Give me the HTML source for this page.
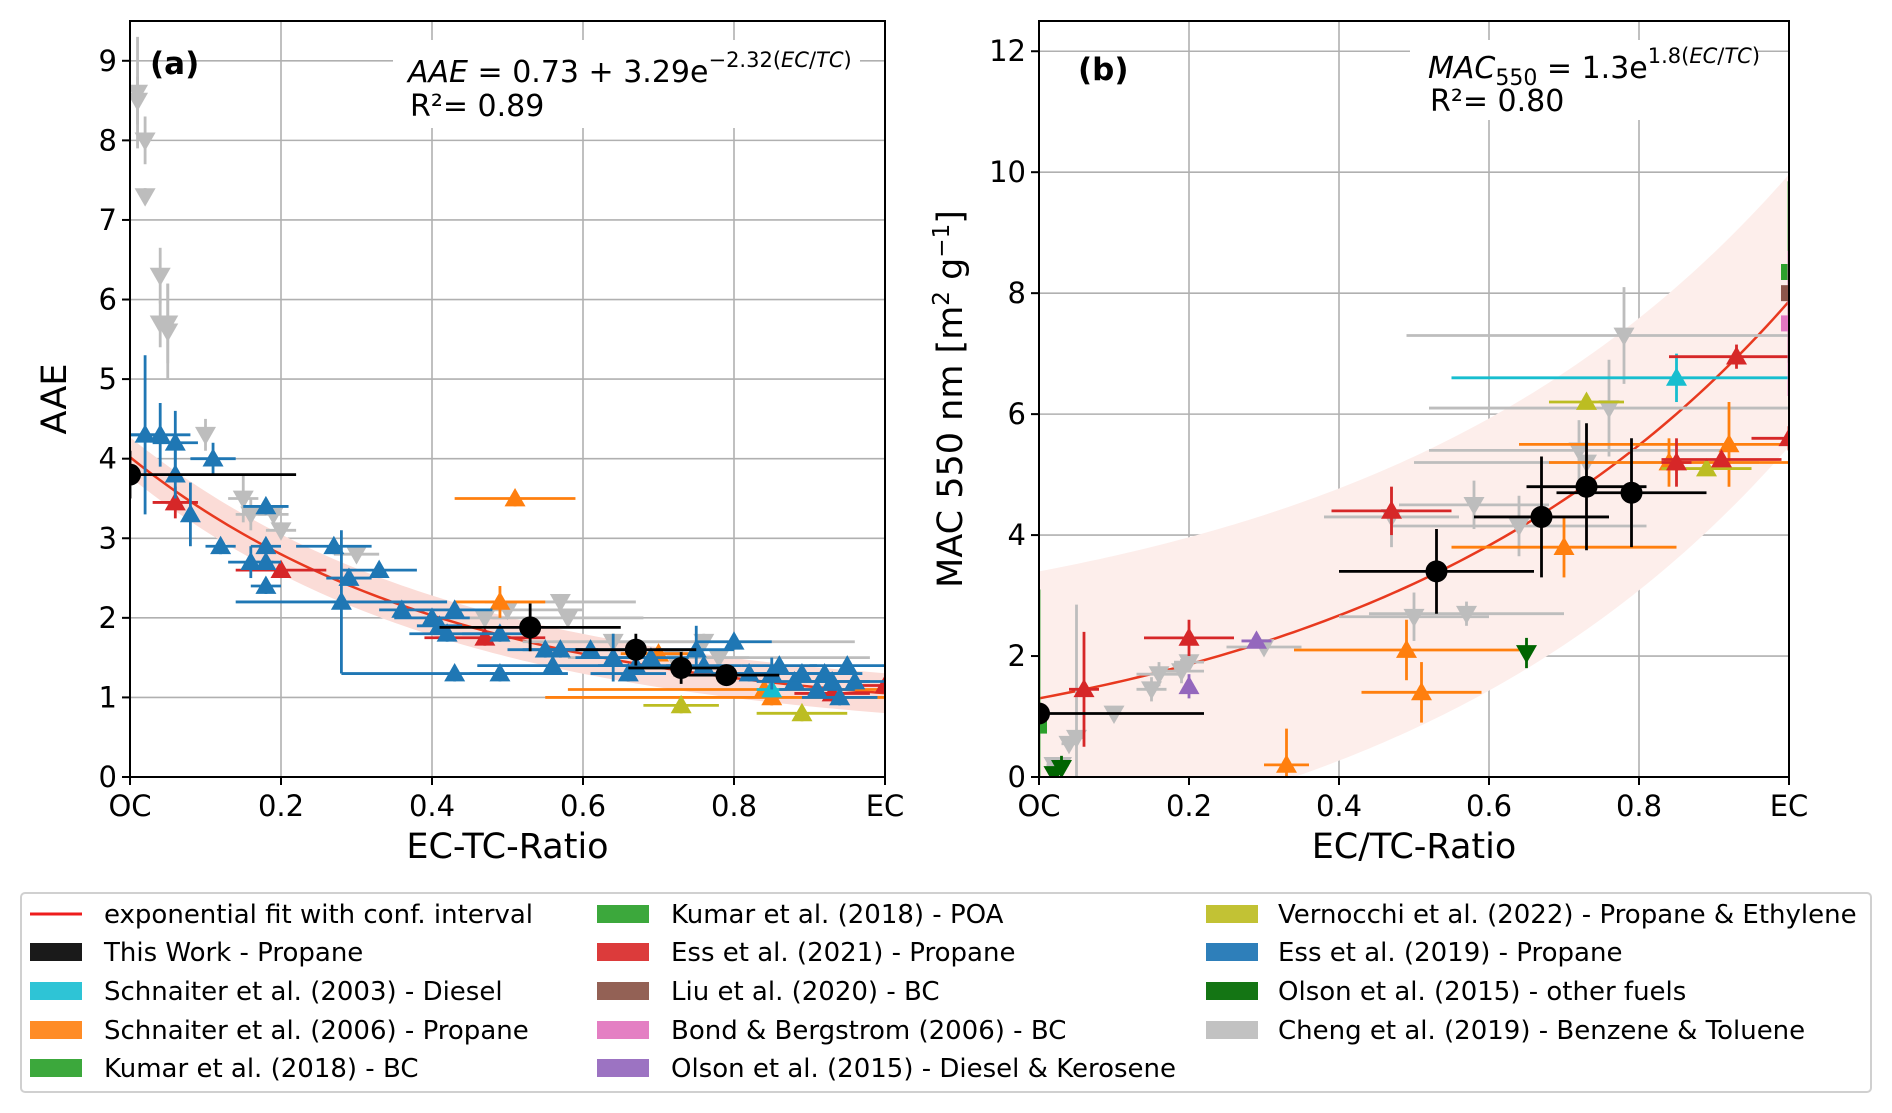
<!DOCTYPE html>
<html><head><meta charset="utf-8">
<style>
html,body{margin:0;padding:0;background:#fff;}
svg{display:block;font-family:"DejaVu Sans","Liberation Sans",sans-serif;}
</style></head>
<body>
<svg id="fig" width="1892" height="1113" viewBox="0 0 1892 1113" xmlns="http://www.w3.org/2000/svg"></svg>
<script>
// ---------- DATA (panel a: AAE) rows = [x, y, xerr, yerr] ----------
const aThisWork = [[0,3.8,0.22,0.3],[0.53,1.88,0.12,0.3],[0.67,1.6,0.08,0.2],[0.73,1.37,0.07,0.2],[0.79,1.28,0.07,0.1]];
const aEss2019 = [[0.02,4.3,0.02,1.0],[0.04,4.3,0.04,0.4],[0.06,4.2,0.03,0.4],[0.06,3.8,0,0.3],[0.08,3.3,0,0.4],[0.11,4.0,0.03,0.2],[0.12,2.9,0.02,0.1],[0.16,2.7,0.03,0.2],[0.18,3.4,0.03,0.1],[0.18,2.9,0.02,0.1],[0.18,2.7,0.02,0.1],[0.18,2.4,0.02,0.1],[0.27,2.9,0.05,0.1],[0.28,2.2,0.14,0.9],[0.29,2.5,0.03,0.1],[0.33,2.6,0.05,0.1],[0.36,2.1,0.03,0.1],[0.4,2.0,0.05,0.1],[0.41,1.9,0.03,0.1],[0.42,1.8,0.05,0.1],[0.43,2.1,0.05,0.1],[0.43,1.3,0.15,0.1],[0.49,1.8,0.05,0.1],[0.49,1.3,0.04,0.1],[0.55,1.6,0.05,0.1],[0.56,1.4,0.1,0.1],[0.57,1.6,0.05,0.1],[0.61,1.6,0.05,0.1],[0.64,1.5,0.05,0.3],[0.66,1.3,0.05,0.1],[0.67,1.4,0.05,0.1],[0.69,1.5,0.05,0.1],[0.75,1.6,0.05,0.3],[0.76,1.4,0.05,0.1],[0.8,1.7,0.05,0.1],[0.82,1.3,0.05,0.1],[0.85,1.3,0.05,0.2],[0.86,1.4,0.05,0.1],[0.88,1.2,0.05,0.1],[0.89,1.3,0.05,0.1],[0.91,1.1,0.05,0.1],[0.92,1.3,0.05,0.1],[0.93,1.2,0.05,0.1],[0.95,1.4,0.05,0.1],[0.94,1.0,0.05,0.1],[0.96,1.2,0.05,0.1]];
const aEss2021 = [[0.06,3.45,0.03,0.2],[0.2,2.6,0.06,0.1],[0.47,1.75,0.08,0.1],[0.93,1.05,0.05,0.1],[1.0,1.15,0.05,0.1]];
const aSchn2006 = [[0.51,3.5,0.08,0.1],[0.49,2.2,0.06,0.2],[0.7,1.55,0.05,0.1],[0.84,1.1,0.26,0.1],[0.85,1.0,0.3,0.1]];
const aSchn2003 = [[0.85,1.1,0.02,0.1]];
const aVern = [[0.73,0.9,0.05,0.1],[0.89,0.8,0.06,0.1]];
const aCheng = [[0.01,8.6,0,0.7],[0.01,8.5,0,0.3],[0.02,8.0,0,0.3],[0.02,7.3,0,0.1],[0.04,6.3,0,0.35],[0.04,5.7,0,0.3],[0.05,5.7,0,0.5],[0.05,5.6,0,0.6],[0.1,4.3,0,0.2],[0.15,3.5,0.02,0.3],[0.16,3.3,0.02,0.2],[0.19,3.3,0.02,0.1],[0.2,3.1,0.02,0.1],[0.3,2.8,0.03,0.1],[0.47,2.0,0.03,0.1],[0.5,2.1,0.1,0.1],[0.57,2.2,0.1,0.1],[0.58,2.0,0.1,0.1],[0.64,1.7,0.12,0.1],[0.72,1.5,0.1,0.1],[0.76,1.7,0.2,0.1],[0.78,1.5,0.2,0.1]];
const fitA = [0.73, 3.29, -2.32];
const bandA = [0.25, 0.25];

// ---------- DATA (panel b: MAC) ----------
const bThisWork = [[0,1.05,0.22,0.05],[0.53,3.4,0.13,0.7],[0.67,4.3,0.09,1.0],[0.73,4.8,0.08,1.05],[0.79,4.7,0.1,0.9]];
const bEss2021 = [[0.06,1.45,0.02,0.95],[0.2,2.3,0.06,0.3],[0.47,4.4,0.08,0.4],[0.85,5.2,0.02,0.4],[0.91,5.25,0.08,0.1],[0.93,6.95,0.09,0.2],[1.0,5.6,0.05,0.2]];
const bSchn2006 = [[0.33,0.2,0.03,0.6],[0.49,2.1,0.15,0.5],[0.51,1.4,0.08,0.5],[0.7,3.8,0.15,0.5],[0.84,5.2,0.16,0.4],[0.92,5.5,0.28,0.7]];
const bSchn2003 = [[0.85,6.6,0.3,0.4]];
const bVern = [[0.73,6.2,0.05,0.1],[0.89,5.1,0.06,0.1]];
const bOlsonDK = [[0.29,2.25,0.02,0.1],[0.2,1.5,0,0.2]];
const bOlsonOther = [[0.65,2.05,0,0.25],[0.03,0.15,0,0.2],[0.02,0.05,0,0.1]];
const bKumar = [[1.0,8.35,0,1.5],[0,0.85,0,2.25]];
const bLiu = [[1.0,8.0,0,0]];
const bBond = [[1.0,7.5,0,1.2]];
const bCheng = [[0.02,0.2,0.01,0.1],[0.03,0.2,0.01,0.1],[0.04,0.55,0.01,0.1],[0.05,0.65,0.01,2.2],[0.1,1.05,0.01,0.1],[0.15,1.45,0.02,0.2],[0.16,1.7,0.03,0.2],[0.19,1.75,0.03,0.2],[0.2,1.9,0.02,0.1],[0.3,2.15,0.05,0.1],[0.47,4.3,0.09,0.5],[0.5,2.65,0.1,0.4],[0.57,2.7,0.13,0.2],[0.58,4.5,0.1,0.4],[0.64,4.15,0.17,0.5],[0.72,5.4,0.2,0.5],[0.73,5.2,0.23,0.3],[0.76,6.1,0.24,0.8],[0.78,7.3,0.29,0.8]];
const fitB = [0, 1.3, 1.8];
const bandB = [2.4, 2.1];

const xTicks = [0,0.2,0.4,0.6,0.8,1];
const xTickLabels = ["OC","0.2","0.4","0.6","0.8","EC"];
const aYTicks = [0,1,2,3,4,5,6,7,8,9];
const bYTicks = [0,2,4,6,8,10,12];

const legendLabels = ["exponential fit with conf. interval","This Work - Propane","Schnaiter et al. (2003) - Diesel","Schnaiter et al. (2006) - Propane","Kumar et al. (2018)  - BC","Kumar et al. (2018)  - POA","Ess et al. (2021) - Propane","Liu et al. (2020) - BC","Bond & Bergstrom (2006) - BC","Olson et al. (2015) - Diesel & Kerosene","Vernocchi et al. (2022) - Propane & Ethylene","Ess et al. (2019) - Propane","Olson et al. (2015) - other fuels","Cheng et al. (2019) - Benzene & Toluene"];
const legendColors = ["#ee1c1c","#1a1a1a","#2ec4d6","#ff8c26","#3ca83c","#3ca83c","#dc3b3b","#936155","#e47fc3","#9c73c2","#c2c234","#2e7fba","#147514","#c2c2c2"];

// ---------- DRAWING ----------
const NS = "http://www.w3.org/2000/svg";
const svg = document.getElementById('fig');
function el(tag, attrs, parent, text){
  const e = document.createElementNS(NS, tag);
  for (const k in attrs) e.setAttribute(k, attrs[k]);
  if (text !== undefined) e.textContent = text;
  (parent||svg).appendChild(e);
  return e;
}
const C = {blue:"#1f77b4",orange:"#ff7f0e",green:"#2ca02c",red:"#d62728",purple:"#9467bd",brown:"#8c564b",pink:"#e377c2",gray:"#bdbdbd",olive:"#bcbd22",cyan:"#17becf",dgreen:"#006400",black:"#000"};

function makePanel(id, L, R, T, B, ymax){
  const sx = v => L + v*(R-L);
  const sy = v => B - v/ymax*(B-T);
  const g = el('g', {}, svg);
  
  
  const cp = el('clipPath', {id:'clip-'+id}, g);
  el('rect', {x:L, y:T, width:R-L, height:B-T}, cp);
  return {L,R,T,B,sx,sy,g,clip:'url(#clip-'+id+')'};
}

function drawAxes(P, yTicks, id){
  const grid = el('g', {}, P.g);
  
  
  xTicks.forEach(t=>{ el('line',{x1:P.sx(t),x2:P.sx(t),y1:P.T,y2:P.B,stroke:'#b0b0b0','stroke-width':1.6},grid); });
  yTicks.forEach(t=>{ el('line',{x1:P.L,x2:P.R,y1:P.sy(t),y2:P.sy(t),stroke:'#b0b0b0','stroke-width':1.6},grid); });
}
function drawFrame(P, yTicks, id, xlabel, ylabel, ylabelX){
  const f = el('g', {}, P.g);
  
  
  el('rect',{x:P.L,y:P.T,width:P.R-P.L,height:P.B-P.T,fill:'none',stroke:'#000','stroke-width':2},f);
  xTicks.forEach((t,i)=>{
    el('line',{x1:P.sx(t),x2:P.sx(t),y1:P.B,y2:P.B+8,stroke:'#000','stroke-width':2},f);
    const tx = el('text',{x:P.sx(t),y:P.B+39,'font-size':29,'text-anchor':'middle',fill:'#000'},f,xTickLabels[i]);
    
    
  });
  yTicks.forEach(t=>{
    el('line',{x1:P.L-8,x2:P.L,y1:P.sy(t),y2:P.sy(t),stroke:'#000','stroke-width':2},f);
    const ty = el('text',{x:P.L-13,y:P.sy(t)+10,'font-size':29,'text-anchor':'end',fill:'#000'},f,String(t));
    
    
  });
  const xl = el('text',{x:(P.L+P.R)/2,y:858,'font-size':35,'text-anchor':'middle',fill:'#000'},f,xlabel);
  
  
  const yl = el('text',{x:0,y:0,'font-size':35,'text-anchor':'middle',fill:'#000',transform:`translate(${ylabelX},${(P.T+P.B)/2}) rotate(-90)`},f);
  
  
  return {f, yl};
}

function drawBand(P, fn, band, id, fill){
  let up=[], lo=[];
  for(let i=0;i<=100;i++){ const x=i/100; up.push(P.sx(x)+','+P.sy(fn(x)+band[1])); lo.push(P.sx(x)+','+P.sy(fn(x)-band[0])); }
  const b = el('polygon',{points:up.concat(lo.reverse()).join(' '),fill:fill,'clip-path':P.clip},P.g);
  
  
  let pts=[];
  for(let i=0;i<=100;i++){ const x=i/100; pts.push(P.sx(x)+','+P.sy(fn(x))); }
  const l = el('polyline',{points:pts.join(' '),fill:'none',stroke:'#e8391f','stroke-width':2.5,'clip-path':P.clip},P.g);
  
  
}

function marker(P, shape, cx, cy, color, parent){
  const s = 10.5;
  if(shape==='^') return el('polygon',{points:`${cx},${cy-s} ${cx-s},${cy+s*0.75} ${cx+s},${cy+s*0.75}`,fill:color},parent);
  if(shape==='v') return el('polygon',{points:`${cx},${cy+s} ${cx-s},${cy-s*0.75} ${cx+s},${cy-s*0.75}`,fill:color},parent);
  if(shape==='o') return el('circle',{cx:cx,cy:cy,r:11,fill:color},parent);
  return el('rect',{x:cx-8,y:cy-8,width:16,height:16,fill:color},parent);
}

function drawSeries(P, rows, color, shape, name){
  const g = el('g',{'clip-path':P.clip},P.g);
  
  
  rows.forEach(r=>{
    const [x,y,xe,ye] = r;
    if(xe>0) el('line',{x1:P.sx(x-xe),x2:P.sx(x+xe),y1:P.sy(y),y2:P.sy(y),stroke:color,'stroke-width':2.8},g);
    if(ye>0) el('line',{x1:P.sx(x),x2:P.sx(x),y1:P.sy(y-ye),y2:P.sy(y+ye),stroke:color,'stroke-width':2.8},g);
  });
  rows.forEach(r=>{
    const m = marker(P, shape, P.sx(r[0]), P.sy(r[1]), color, g);
    
    
  });
}

// Panel a
const PA = makePanel('panel-a', 130, 885, 21, 777, 9.5);
drawAxes(PA, aYTicks, 'panel-a');
const fnA = x => fitA[0] + fitA[1]*Math.exp(fitA[2]*x);
drawBand(PA, fnA, bandA, 'panel-a', '#fbdcd7');
drawSeries(PA, aCheng, C.gray, 'v', 'cheng-2019-series');
drawSeries(PA, aSchn2006, C.orange, '^', 'schnaiter-2006-series');
drawSeries(PA, aVern, C.olive, '^', 'vernocchi-2022-series');
drawSeries(PA, aSchn2003, C.cyan, '^', 'schnaiter-2003-series');
drawSeries(PA, aEss2021, C.red, '^', 'ess-2021-series');
drawSeries(PA, aEss2019, C.blue, '^', 'ess-2019-series');
drawSeries(PA, aThisWork, C.black, 'o', 'this-work-series');
const fa = drawFrame(PA, aYTicks, 'panel-a', 'EC-TC-Ratio', '', 66);
fa.yl.textContent = 'AAE';

// Panel b
const PB = makePanel('panel-b', 1039, 1789, 21, 777, 12.5);
drawAxes(PB, bYTicks, 'panel-b');
const fnB = x => fitB[0] + fitB[1]*Math.exp(fitB[2]*x);
drawBand(PB, fnB, bandB, 'panel-b', '#fdeeeb');
drawSeries(PB, bCheng, C.gray, 'v', 'cheng-2019-series');
drawSeries(PB, bSchn2006, C.orange, '^', 'schnaiter-2006-series');
drawSeries(PB, bSchn2003, C.cyan, '^', 'schnaiter-2003-series');
drawSeries(PB, bVern, C.olive, '^', 'vernocchi-2022-series');
drawSeries(PB, bOlsonDK, C.purple, '^', 'olson-diesel-series');
drawSeries(PB, bOlsonOther, C.dgreen, 'v', 'olson-other-series');
drawSeries(PB, bEss2021, C.red, '^', 'ess-2021-series');
drawSeries(PB, bKumar, C.green, 's', 'kumar-2018-series');
drawSeries(PB, bBond, C.pink, 's', 'bond-2006-series');
drawSeries(PB, bLiu, C.brown, 's', 'liu-2020-series');
drawSeries(PB, bThisWork, C.black, 'o', 'this-work-series');
const fb = drawFrame(PB, bYTicks, 'panel-b', 'EC/TC-Ratio', '', 962);
el('tspan',{},fb.yl,'MAC 550 nm [m');
el('tspan',{'font-size':23,dy:-13},fb.yl,'2');
el('tspan',{dy:13},fb.yl,' g');
el('tspan',{'font-size':23,dy:-13},fb.yl,'−1');
el('tspan',{dy:13},fb.yl,']');
</script>

<!-- annotations -->
<svg style="position:absolute;left:0;top:0" width="1892" height="1113" xmlns="http://www.w3.org/2000/svg" font-family="DejaVu Sans, Liberation Sans, sans-serif">
  <rect x="393" y="40" width="467" height="88" fill="#fff"/>
  <text x="150" y="74" font-size="31" font-weight="bold">(a)</text>
  <text x="408" y="82" font-size="30"><tspan font-style="italic">AAE</tspan> = 0.73 + 3.29e<tspan font-size="21" dy="-15">−2.32(<tspan font-style="italic">EC</tspan>/<tspan font-style="italic">TC</tspan>)</tspan></text>
  <text x="410" y="116" font-size="30">R²= 0.89</text>

  <rect x="1410" y="40" width="346" height="80" fill="#fff"/>
  <text x="1078" y="80" font-size="31" font-weight="bold">(b)</text>
  <text x="1428" y="78" font-size="30"><tspan font-style="italic">MAC</tspan><tspan font-size="22" dy="7">550</tspan><tspan dy="-7"> = 1.3e</tspan><tspan font-size="21" dy="-15">1.8(<tspan font-style="italic">EC</tspan>/<tspan font-style="italic">TC</tspan>)</tspan></text>
  <text x="1430" y="111" font-size="30">R²= 0.80</text>
  <g id="legend">
    <rect x="21" y="893" width="1850" height="199" rx="4" fill="#fff" stroke="#d0d0d0" stroke-width="2"/>
  </g>
</svg>
<script>
const lg = document.getElementById('legend');
const colX = [30, 597, 1206];
const textX = [104, 671, 1278];
const rowY = [914, 952, 991, 1030, 1068];
legendLabels.forEach((lab,i)=>{
  const c = Math.floor(i/5), r = i%5;
  const g = document.createElementNS(NS,'g');
  
  
  lg.appendChild(g);
  if(i===0){
    el('line',{x1:colX[c],x2:colX[c]+52,y1:rowY[r],y2:rowY[r],stroke:legendColors[i],'stroke-width':3},g);
  } else {
    el('rect',{x:colX[c],y:rowY[r]-9,width:52,height:18,fill:legendColors[i]},g);
  }
  const t = el('text',{x:textX[c],y:rowY[r]+9,'font-size':26,fill:'#000'},g,lab);
});
</script>
</body></html>
